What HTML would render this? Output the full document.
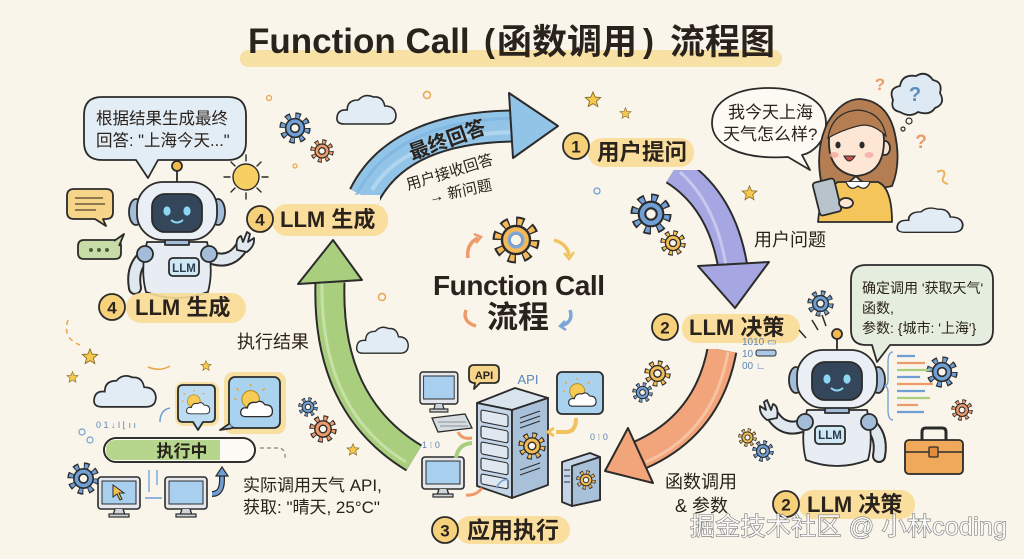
<!DOCTYPE html>
<html><head><meta charset="utf-8"><style>
html,body{margin:0;padding:0;background:#faf5ea;width:1024px;height:559px;overflow:hidden;}
svg{display:block;}
text{font-family:"Liberation Sans","Noto Sans CJK SC",sans-serif;}
.b{font-weight:700;}
.ol{stroke:#2b2b2b;stroke-width:1.8;stroke-linejoin:round;}
</style></head><body>
<svg width="1024" height="559" viewBox="0 0 1024 559" xmlns="http://www.w3.org/2000/svg">
<defs>
<symbol id="g" viewBox="-14 -14 28 28">
<circle r="10" fill="none" stroke="#2b2b2b" stroke-width="7.4" stroke-dasharray="4.1 3.75"/>
<circle r="10" fill="none" stroke="currentColor" stroke-width="5" stroke-dasharray="2.6 5.25" stroke-dashoffset="-0.75"/>
<circle r="8.2" fill="currentColor" stroke="#2b2b2b" stroke-width="1.4"/>
<circle r="3.8" fill="#faf5ea" stroke="#2b2b2b" stroke-width="1.4"/>
</symbol>
<symbol id="cl" viewBox="0 0 62 34" preserveAspectRatio="none">
<path d="M9,32 Q1,32 2,25 Q3,17 12,18 Q12,8 23,8 Q29,1 38,5 Q47,4 49,14 Q59,14 60,23 Q60,32 51,32 Z" fill="#e2ecf5" stroke="#2b2b2b" stroke-width="1.6"/>
</symbol>
<symbol id="st" viewBox="-10 -10 20 20">
<polygon points="0,-9 2.35,-3.24 8.56,-2.78 3.8,1.24 5.29,7.28 0,4 -5.29,7.28 -3.8,1.24 -8.56,-2.78 -2.35,-3.24" fill="#f5c94e" stroke="#8a6a2a" stroke-width="1"/>
</symbol>
<symbol id="sun" viewBox="0 0 40 34">
<circle cx="16" cy="14" r="8" fill="#f6cc55" stroke="#b58a2a" stroke-width="1"/>
<path d="M16,2v-2M5,6l-2,-2M27,6l2,-2M3,14h-2" stroke="#e9a93a" stroke-width="1.5"/>
<path d="M12,30 Q6,30 7,25 Q8,21 13,22 Q14,16 21,17 Q26,14 29,19 Q36,19 36,25 Q36,30 31,30Z" fill="#fff" stroke="#2b2b2b" stroke-width="1.2"/>
</symbol>
<g id="robot" stroke="#2b2b2b" stroke-width="1.8" stroke-linejoin="round">
<path d="M-30,44 Q-46,56 -42,78" fill="none" stroke-width="14" stroke-linecap="round"/>
<path d="M-30,44 Q-46,56 -42,78" fill="none" stroke="#dfe7ef" stroke-width="10" stroke-linecap="round"/>
<path d="M30,46 Q52,56 64,38" fill="none" stroke-width="14" stroke-linecap="round"/>
<path d="M30,46 Q52,56 64,38" fill="none" stroke="#dfe7ef" stroke-width="10" stroke-linecap="round"/>
<path d="M60,40 Q58,28 64,26 L66,32 L70,22 L73,24 L71,32 L77,28 Q78,36 70,42 Z" fill="#dfe7ef"/>
<path d="M-30,32 L30,32 Q37,60 31,82 Q0,94 -31,82 Q-37,60 -30,32Z" fill="#e7edf3"/>
<circle cx="-32" cy="44" r="8" fill="#a3bdd8"/>
<circle cx="32" cy="44" r="8" fill="#a3bdd8"/>
<rect x="-12" y="27" width="24" height="8" fill="#a3bdd8"/>
<rect x="-8" y="48" width="30" height="18" rx="4" fill="#cfe8f4"/>
<ellipse cx="-41" cy="2" rx="7" ry="13" fill="#a3bdd8"/>
<ellipse cx="41" cy="2" rx="7" ry="13" fill="#a3bdd8"/>
<rect x="-40" y="-28" width="80" height="58" rx="26" fill="#e9eff5"/>
<rect x="-25" y="-16" width="50" height="38" rx="13" fill="#33465a"/>
<ellipse cx="-10" cy="1" rx="3.6" ry="4.6" fill="#8fd6f4" stroke="none"/>
<ellipse cx="10" cy="1" rx="3.6" ry="4.6" fill="#8fd6f4" stroke="none"/>
<path d="M-6,10 Q0,15 6,10" fill="none" stroke="#8fd6f4" stroke-width="2"/>
<line x1="0" y1="-28" x2="0" y2="-40"/>
<circle cx="0" cy="-44" r="5" fill="#f3b94d"/>
</g>
<g id="mon">
<rect x="0" y="0" width="42" height="32" rx="3" fill="#e4e8ec" stroke="#2b2b2b" stroke-width="1.6"/>
<rect x="4" y="4" width="34" height="23" fill="#a9cfee" stroke="#2b2b2b" stroke-width="1"/>
<path d="M17,32 L15,38 L27,38 L25,32" fill="#cfd5db" stroke="#2b2b2b" stroke-width="1.3"/>
<rect x="11" y="37" width="20" height="3" fill="#cfd5db" stroke="#2b2b2b" stroke-width="1.2"/>
</g>
</defs>
<rect width="1024" height="559" fill="#faf5ea"/>
<g fill="#2a221c">

<!-- Title -->
<rect x="240" y="50" width="542" height="17" rx="8" fill="#f6dc94" opacity="0.8"/>
<text x="248" y="53" class="b" font-size="35">Function Call</text>
<text x="484" y="52" class="b" font-size="33">(</text>
<text x="497" y="54" class="b" font-size="35">函数调用</text>
<text x="643" y="52" class="b" font-size="33">)</text>
<text x="670" y="54" class="b" font-size="35">流程图</text>

<!-- decorative small circles -->
<circle cx="269" cy="98" r="2.5" fill="none" stroke="#e9a54a" stroke-width="1.3"/>
<circle cx="427" cy="95" r="3.5" fill="none" stroke="#e9a54a" stroke-width="1.5"/>
<circle cx="295" cy="166" r="2" fill="none" stroke="#e9a54a" stroke-width="1.2"/>
<circle cx="597" cy="191" r="3" fill="none" stroke="#6f9fd4" stroke-width="1.3"/>
<circle cx="382" cy="297" r="3.5" fill="none" stroke="#e9a54a" stroke-width="1.5"/>

<!-- clouds -->
<use href="#cl" x="335" y="92" width="63" height="34"/>
<use href="#cl" x="895" y="205" width="70" height="29"/>
<use href="#cl" x="355" y="324" width="55" height="31"/>
<use href="#cl" x="92" y="372" width="66" height="37"/>

<!-- gears -->
<use href="#g" x="279" y="112" width="32" height="32" color="#6f9fd4"/>
<use href="#g" x="310" y="139" width="24" height="24" color="#ee9a6b"/>
<use href="#g" x="630" y="193" width="42" height="42" color="#6f9fd4"/>
<use href="#g" x="660" y="230" width="26" height="26" color="#f1bb55"/>
<use href="#g" x="807" y="290" width="27" height="27" color="#6f9fd4"/>
<use href="#g" x="926" y="356" width="32" height="32" color="#6f9fd4"/>
<use href="#g" x="951" y="399" width="22" height="22" color="#ee9a6b"/>
<use href="#g" x="738" y="428" width="19" height="19" color="#f1bb55"/>
<use href="#g" x="752" y="440" width="22" height="22" color="#6f9fd4"/>
<use href="#g" x="644" y="360" width="27" height="27" color="#f1bb55"/>
<use href="#g" x="632" y="382" width="21" height="21" color="#6f9fd4"/>
<use href="#g" x="67" y="462" width="33" height="33" color="#6f9fd4"/>
<use href="#g" x="298" y="397" width="20" height="20" color="#6f9fd4"/>
<use href="#g" x="309" y="415" width="28" height="28" color="#ee9a6b"/>

<!-- stars -->
<use href="#st" x="584" y="91" width="18" height="18"/>
<use href="#st" x="619" y="107" width="13" height="13"/>
<use href="#st" x="741" y="185" width="17" height="17"/>
<use href="#st" x="81" y="348" width="18" height="18"/>
<use href="#st" x="66" y="371" width="13" height="13"/>
<use href="#st" x="200" y="360" width="12" height="12"/>
<use href="#st" x="346" y="443" width="14" height="14"/>

<!-- ===== Arrows ===== -->
<!-- blue -->
<path d="M364,196 Q398,128 512,126" fill="none" stroke="#2b2b2b" stroke-width="33"/>
<path d="M364,196 Q398,128 512,126" fill="none" stroke="#92c4e8" stroke-width="29"/>
<path d="M372,190 Q404,136 512,132" fill="none" stroke="#b7d9f0" stroke-width="4" opacity="0.8"/>
<path d="M356,196 Q392,122 512,118" fill="none" stroke="#7cb4df" stroke-width="3" opacity="0.7"/>
<polygon points="509,93 513,158 558,126" fill="#92c4e8" stroke="#2b2b2b" stroke-width="2" stroke-linejoin="round"/>
<rect x="340" y="195" width="40" height="8" fill="#faf5ea"/>
<text transform="translate(412,160) rotate(-20)" font-size="20" font-weight="700">最终回答</text>
<text transform="translate(408,190) rotate(-17)" font-size="15">用户接收回答</text>
<text transform="translate(430,203) rotate(-12)" font-size="15">→ 新问题</text>

<!-- purple -->
<path d="M674,170 Q722,200 733,268" fill="none" stroke="#2b2b2b" stroke-width="31"/>
<path d="M674,170 Q722,200 733,268" fill="none" stroke="#a6a7e2" stroke-width="27"/>
<path d="M680,172 Q716,204 726,266" fill="none" stroke="#c8c8ef" stroke-width="3"/>
<polygon points="698,266 769,262 735,308" fill="#a6a7e2" stroke="#2b2b2b" stroke-width="2" stroke-linejoin="round"/>
<rect x="652" y="158" width="50" height="12" fill="#faf5ea"/>
<text x="754" y="246" font-size="18">用户问题</text>

<!-- orange -->
<path d="M722,350 Q708,425 640,455" fill="none" stroke="#2b2b2b" stroke-width="31"/>
<path d="M722,350 Q708,425 640,455" fill="none" stroke="#f2a47a" stroke-width="27"/>
<path d="M728,352 Q714,432 646,462" fill="none" stroke="#f7c3a3" stroke-width="3"/>
<polygon points="628,428 653,483 605,471" fill="#f2a47a" stroke="#2b2b2b" stroke-width="2" stroke-linejoin="round"/>
<rect x="700" y="336" width="45" height="13" fill="#faf5ea"/>
<text x="665" y="488" font-size="18">函数调用</text>
<text x="675" y="512" font-size="18">&amp; 参数</text>

<!-- green -->
<path d="M414,458 Q326,405 330,282" fill="none" stroke="#2b2b2b" stroke-width="31"/>
<path d="M414,458 Q326,405 330,282" fill="none" stroke="#a9cf7e" stroke-width="27"/>
<path d="M406,462 Q320,410 322,282" fill="none" stroke="#c6e0a6" stroke-width="3"/>
<polygon points="298,284 362,280 333,240" fill="#a9cf7e" stroke="#2b2b2b" stroke-width="2" stroke-linejoin="round"/>
<text x="237" y="348" font-size="18">执行结果</text>

<!-- ===== Center ===== -->
<use href="#g" x="492" y="216" width="48" height="48" color="#f3b95a"/>
<circle cx="516" cy="240" r="7" fill="none" stroke="#7ba7d8" stroke-width="3"/>
<path d="M468,258 Q466,244 478,238" fill="none" stroke="#ef9a68" stroke-width="3.5"/>
<path d="M474,234 L481,237 L476,243" fill="none" stroke="#ef9a68" stroke-width="2.5"/>
<path d="M554,240 Q568,244 569,256" fill="none" stroke="#f0c35e" stroke-width="3.5"/>
<path d="M564,253 L569,259 L574,252" fill="none" stroke="#f0c35e" stroke-width="2.5"/>
<path d="M466,310 Q462,322 476,326" fill="none" stroke="#ef9a68" stroke-width="3.5"/>
<path d="M570,310 Q574,322 561,326" fill="none" stroke="#7ba7d8" stroke-width="3.5"/>
<path d="M565,321 L560,326 L566,330" fill="none" stroke="#7ba7d8" stroke-width="2.5"/>
<text x="433" y="295" class="b" font-size="28" textLength="172">Function Call</text>
<text x="487" y="328" class="b" font-size="31">流程</text>

<!-- ===== Left bubble and robot ===== -->
<path d="M102,97 H228 Q246,97 246,115 V142 Q246,160 228,160 H158 L148,178 L136,160 H102 Q84,160 84,142 V115 Q84,97 102,97Z" fill="#e3edf5" class="ol"/>
<text x="96" y="124" font-size="16.5">根据结果生成最终</text>
<text x="96" y="146" font-size="16.5">回答: "上海今天..."</text>

<!-- chat icons -->
<path d="M74,189 H106 Q113,189 113,196 V212 Q113,219 106,219 H103 L106,226 L95,219 H74 Q67,219 67,212 V196 Q67,189 74,189Z" fill="#f6d48a" class="ol"/>
<path d="M75,198 H103 M75,204 H105 M75,210 H96" stroke="#6b5a3a" stroke-width="1.6"/>
<path d="M84,240 H115 Q121,240 121,246 V253 Q121,259 115,259 H84 Q78,259 78,253 V246 Q78,240 84,240Z" fill="#c8dca8" class="ol"/>
<path d="M114,241 L124,234 L119,246" fill="#c8dca8" class="ol"/>
<circle cx="91" cy="250" r="2" fill="#4d5d3a"/><circle cx="99" cy="250" r="2" fill="#4d5d3a"/><circle cx="107" cy="250" r="2" fill="#4d5d3a"/>

<!-- sun -->
<g stroke="#2b2b2b" stroke-width="1.4">
<circle cx="246" cy="177" r="13" fill="#f7d064"/>
<path d="M246,155v6M246,193v6M224,177h6M262,177h6M231,162l4,4M257,188l4,4M261,162l-4,4M231,192l4,-4" stroke-linecap="round"/>
</g>

<use href="#robot" transform="translate(177,210)"/>
<text x="184" y="272" text-anchor="middle" font-size="11.5" font-weight="700" style="fill:#2b3b4b">LLM</text>

<!-- label ④ top -->
<rect x="272" y="204" width="116" height="32" rx="15" fill="#f8dc95" opacity="0.9"/>
<circle cx="260" cy="219" r="13" fill="#f7d07a" class="ol"/>
<text x="260" y="225.5" text-anchor="middle" class="b" font-size="17">4</text>
<text x="280" y="227" class="b" font-size="22">LLM 生成</text>

<!-- label ④ bottom -->
<rect x="126" y="293" width="120" height="30" rx="15" fill="#f8dc95" opacity="0.9"/>
<circle cx="112" cy="307" r="13" fill="#f7d07a" class="ol"/>
<text x="112" y="313.5" text-anchor="middle" class="b" font-size="17">4</text>
<text x="135" y="315" class="b" font-size="22">LLM 生成</text>

<!-- dashed arc decorations -->
<path d="M68,320 Q62,338 80,345" fill="none" stroke="#e9a54a" stroke-width="1.5" stroke-dasharray="5 4"/>
<path d="M148,367 Q160,372 170,366" fill="none" stroke="#e9a54a" stroke-width="1.5"/>

<!-- bottom-left execution -->
<text x="96" y="428" font-size="9" style="fill:#5b85b8">0 1 ↓ l ⌊ ı ı</text>
<path d="M160,422 Q160,410 170,408" fill="none" stroke="#6f9fd4" stroke-width="1.5"/>
<g>
<rect x="175" y="382" width="44" height="44" rx="8" fill="#f6dc94" opacity="0.8"/>
<path d="M183,385 H210 Q215,385 215,390 V417 Q215,422 210,422 H203 L198,430 L193,422 H183 Q178,422 178,417 V390 Q178,385 183,385Z" fill="#bedcf1" class="ol"/>
<use href="#sun" x="181" y="390" width="32" height="27"/>
<rect x="224" y="372" width="62" height="62" rx="9" fill="#f6dc94" opacity="0.85"/>
<rect x="229" y="377" width="51" height="51" rx="6" fill="#a9d2ef" class="ol"/>
<path d="M229,424 L220,430 L233,428" fill="#a9d2ef" class="ol"/>
<use href="#sun" x="233" y="384" width="44" height="37"/>
</g>
<rect x="104" y="438" width="151" height="24" rx="12" fill="#fdfbf5" class="ol"/>
<path d="M116,440 H220 V460 H116 Q106,460 106,450 Q106,440 116,440Z" fill="#b5d68c"/>
<rect x="104" y="438" width="151" height="24" rx="12" fill="none" class="ol"/>
<text x="182" y="457" text-anchor="middle" font-size="17" font-weight="700">执行中</text>
<path d="M260,448 H280 Q286,450 285,460" fill="none" stroke="#888" stroke-width="1.3" stroke-dasharray="4 3"/>
<circle cx="82" cy="432" r="3" fill="none" stroke="#6f9fd4" stroke-width="1.2"/>
<circle cx="90" cy="440" r="3" fill="none" stroke="#6f9fd4" stroke-width="1.2"/>
<use href="#mon" x="98" y="477"/>
<path d="M113,485 L113,497 L117,494 L120,500 L122,499 L119,493 L124,493Z" fill="#f3c24e" stroke="#2b2b2b" stroke-width="1"/>
<use href="#mon" x="165" y="477"/>
<path d="M145,498 H162" stroke="#6f9fd4" stroke-width="1.5"/>
<path d="M149,470 V492 M157,470 V485" stroke="#6f9fd4" stroke-width="1.3"/>
<path d="M212,494 Q222,494 222,480 L222,474" fill="none" stroke="#2b2b2b" stroke-width="6"/>
<path d="M212,494 Q222,494 222,480 L222,474" fill="none" stroke="#6f9fd4" stroke-width="3.5"/>
<polygon points="216,476 228,476 222,467" fill="#6f9fd4" stroke="#2b2b2b" stroke-width="1.2"/>
<text x="243" y="491" font-size="17">实际调用天气 API,</text>
<text x="243" y="513" font-size="17">获取: "晴天, 25°C"</text>

<!-- ===== Server cluster ===== -->
<use href="#mon" transform="translate(420,372) scale(0.9,1)"/>
<polygon points="432,418 465,414 472,428 438,432" fill="#d7dce1" stroke="#2b2b2b" stroke-width="1.3"/>
<path d="M438,422 H466 M440,426 H468" stroke="#8a9199" stroke-width="1"/>
<path d="M474,365 H494 Q499,365 499,370 V378 Q499,383 494,383 H480 L474,389 L475,383 Q469,383 469,378 V370 Q469,365 474,365Z" fill="#f6d48a" class="ol"/>
<text x="484" y="379" text-anchor="middle" font-size="11" font-weight="700">API</text>
<text x="528" y="384" text-anchor="middle" font-size="13" style="fill:#5b85b8">API</text>
<polygon points="477,403 515,388 548,398 512,410" fill="#d9e4ef" class="ol"/>
<polygon points="477,403 512,410 512,498 477,486" fill="#c4d5e7" class="ol"/>
<polygon points="512,410 548,398 548,485 512,498" fill="#a9c0d9" class="ol"/>
<g transform="translate(477,403) skewY(11)" stroke="#2b2b2b" stroke-width="1.1">
<rect x="4" y="6" width="27" height="12" rx="2" fill="#dfe8f1"/>
<rect x="4" y="22" width="27" height="12" rx="2" fill="#dfe8f1"/>
<rect x="4" y="38" width="27" height="12" rx="2" fill="#dfe8f1"/>
<rect x="4" y="54" width="27" height="12" rx="2" fill="#dfe8f1"/>
<rect x="4" y="70" width="27" height="10" rx="2" fill="#dfe8f1"/>
</g>
<path d="M520,418 L540,411 M520,423 L540,416 M520,428 L540,421 M520,470 L540,463 M520,475 L540,468" stroke="#2b2b2b" stroke-width="1"/>
<use href="#g" x="518" y="432" width="28" height="28" color="#f1bb55"/>
<rect x="557" y="372" width="46" height="42" rx="5" fill="#a9d2ef" class="ol"/>
<use href="#sun" x="561" y="378" width="40" height="32"/>
<use href="#mon" x="422" y="457"/>
<polygon points="562,462 590,453 600,457 600,500 572,506 562,502" fill="#c4d5e7" class="ol"/>
<polygon points="572,466 600,457 600,500 572,506" fill="#a9c0d9" class="ol"/>
<use href="#g" x="576" y="470" width="20" height="20" color="#f1bb55"/>
<path d="M564,470 H570 M564,476 H570 M564,482 H570" stroke="#2b2b2b" stroke-width="1"/>
<path d="M458,432 Q462,440 472,438" fill="none" stroke="#ef9a68" stroke-width="3"/>
<path d="M456,458 Q458,444 472,443" fill="none" stroke="#a9cf7e" stroke-width="4"/>
<path d="M466,495 Q476,496 482,488" fill="none" stroke="#ef9a68" stroke-width="3"/>
<path d="M556,432 H566 Q576,432 576,418" fill="none" stroke="#f0c35e" stroke-width="4"/>
<path d="M554,428 L548,432 L554,436" fill="none" stroke="#f0c35e" stroke-width="3"/>
<path d="M496,488 Q502,478 508,480" fill="none" stroke="#6f9fd4" stroke-width="1.5"/>
<text x="422" y="448" font-size="9" style="fill:#5b85b8">1 ⁝ 0</text>
<text x="590" y="440" font-size="9" style="fill:#5b85b8">0 ⁝ 0</text>

<!-- label ③ -->
<rect x="456" y="516" width="114" height="28" rx="14" fill="#f8dc95" opacity="0.9"/>
<circle cx="445" cy="530" r="13" fill="#f7d07a" class="ol"/>
<text x="445" y="536.5" text-anchor="middle" class="b" font-size="17">3</text>
<text x="467" y="538" class="b" font-size="23">应用执行</text>

<!-- label ① -->
<rect x="588" y="138" width="106" height="29" rx="14" fill="#f8dc95" opacity="0.9"/>
<circle cx="576" cy="146" r="13" fill="#f7d07a" class="ol"/>
<text x="576" y="152.5" text-anchor="middle" class="b" font-size="17">1</text>
<text x="597" y="160" class="b" font-size="22.5">用户提问</text>

<!-- girl bubble -->
<path d="M768,88 C800,88 826,100 826,123 C826,142 812,153 802,155 L810,170 L788,157 C740,160 712,145 712,123 C712,100 738,88 768,88Z" fill="#fdfaf3" class="ol"/>
<text x="728" y="118" font-size="17">我今天上海</text>
<text x="723" y="140" font-size="17">天气怎么样?</text>

<!-- thought cloud & question marks -->
<path d="M900,112 Q890,110 893,100 Q888,88 900,86 Q902,74 916,76 Q926,70 933,80 Q943,82 940,93 Q946,104 935,108 Q930,116 918,112 Q910,118 900,112Z" fill="#dde9f3" class="ol"/>
<text x="915" y="101" text-anchor="middle" class="b" font-size="20" style="fill:#5b8db8">?</text>
<circle cx="909" cy="121" r="3" fill="none" stroke="#2b2b2b" stroke-width="1.2"/>
<circle cx="903" cy="129" r="2" fill="none" stroke="#2b2b2b" stroke-width="1.2"/>
<text x="880" y="90" text-anchor="middle" class="b" font-size="17" style="fill:#ec9a6a">?</text>
<text x="921" y="148" text-anchor="middle" class="b" font-size="19" style="fill:#ec9a6a">?</text>
<path d="M937,172 Q946,168 944,176 Q940,182 948,184" fill="none" stroke="#efb35a" stroke-width="2"/>

<!-- girl -->
<path d="M822,186 Q814,150 828,122 Q842,99 860,99 Q886,101 894,130 Q902,162 892,186 Q870,192 856,176 Q840,192 822,186Z" fill="#b47d52" class="ol"/>
<path d="M818,222 Q820,192 838,182 H878 Q892,188 892,222 Z" fill="#f4c55a" class="ol"/>
<path d="M846,182 Q850,192 858,186 Q866,192 870,182" fill="#fff" stroke="#2b2b2b" stroke-width="1.3"/>
<ellipse cx="885" cy="148" rx="5" ry="7" fill="#fbe2cf" class="ol"/>
<path d="M829,140 Q828,172 856,176 Q884,174 884,140 Q884,125 870,120 Q850,128 835,122 Q829,128 829,140Z" fill="#fde6d3" class="ol"/>
<path d="M828,138 Q832,112 858,110 Q882,112 886,136 Q872,122 858,126 Q842,130 828,138Z" fill="#b47d52" stroke="#2b2b2b" stroke-width="1.2"/>
<ellipse cx="838" cy="145" rx="2.6" ry="3.4" fill="#2b2b2b"/>
<ellipse cx="862" cy="145" rx="2.6" ry="3.4" fill="#2b2b2b"/>
<ellipse cx="834" cy="155" rx="4.5" ry="3" fill="#f5a8a0" opacity="0.8"/>
<ellipse cx="869" cy="155" rx="4.5" ry="3" fill="#f5a8a0" opacity="0.8"/>
<path d="M844,156 Q849,166 855,156 Z" fill="#c4524e" stroke="#2b2b2b" stroke-width="1.1"/>
<rect x="816" y="180" width="22" height="34" rx="3" fill="#b9c3cc" class="ol" transform="rotate(-14 827 197)"/>
<ellipse cx="846" cy="203" rx="7" ry="5" fill="#fde6d3" class="ol"/>

<!-- right bubble -->
<path d="M866,265 H978 Q993,265 993,280 V330 Q993,345 978,345 H890 L877,362 L872,345 H866 Q851,345 851,330 V280 Q851,265 866,265Z" fill="#e5eede" class="ol"/>
<text x="862" y="293" font-size="14">确定调用 '获取天气'</text>
<text x="862" y="313" font-size="14">函数,</text>
<text x="862" y="333" font-size="14">参数: {城市: '上海'}</text>

<!-- label ② mid -->
<rect x="682" y="314" width="118" height="29" rx="14" fill="#f8dc95" opacity="0.9"/>
<circle cx="665" cy="327" r="13" fill="#f7d07a" class="ol"/>
<text x="665" y="333.5" text-anchor="middle" class="b" font-size="17">2</text>
<text x="689" y="335" class="b" font-size="22">LLM 决策</text>

<!-- right robot -->
<path d="M818,330 L812,320 M826,326 L822,315 M806,338 L799,330" stroke="#2b2b2b" stroke-width="1.5"/>
<use href="#robot" transform="translate(837,378) scale(-1,1)"/>
<text x="830" y="439" text-anchor="middle" font-size="11.5" font-weight="700" style="fill:#2b3b4b">LLM</text>
<text x="742" y="345" font-size="10" style="fill:#5b85b8">1010 ▭</text>
<rect x="756" y="350" width="20" height="6" rx="2" fill="#a9c8e6" stroke="#2b2b2b" stroke-width="1"/>
<text x="742" y="357" font-size="10" style="fill:#5b85b8">10</text>
<text x="742" y="369" font-size="10" style="fill:#5b85b8">00 ∟</text>
<path d="M893,352 Q888,352 888,362 V380 Q888,386 884,386 Q888,386 888,392 V410 Q888,420 893,420" fill="none" stroke="#6f9fd4" stroke-width="1.3"/>
<g stroke-width="2.2">
<path d="M897,356 H915" stroke="#6f9fd4"/><path d="M897,363 H925" stroke="#ef9a68"/>
<path d="M897,370 H930" stroke="#a9cf7e"/><path d="M897,377 H920" stroke="#6f9fd4"/>
<path d="M897,384 H933" stroke="#ef9a68"/><path d="M897,391 H925" stroke="#6f9fd4"/>
<path d="M897,398 H930" stroke="#a9cf7e"/><path d="M897,405 H918" stroke="#ef9a68"/>
<path d="M897,412 H924" stroke="#6f9fd4"/>
</g>

<!-- toolbox -->
<path d="M922,440 V432 Q922,428 926,428 H942 Q946,428 946,432 V440" fill="none" stroke="#2b2b2b" stroke-width="3"/>
<rect x="905" y="440" width="58" height="34" rx="4" fill="#f0a85a" class="ol"/>
<path d="M905,452 H963" stroke="#2b2b2b" stroke-width="1.5"/>
<rect x="929" y="447" width="9" height="10" rx="1" fill="#e48c3e" stroke="#2b2b2b" stroke-width="1.3"/>

<!-- label ② bottom -->
<rect x="799" y="490" width="116" height="29" rx="14" fill="#f8dc95" opacity="0.9"/>
<circle cx="786" cy="504" r="13" fill="#f7d07a" class="ol"/>
<text x="786" y="510.5" text-anchor="middle" class="b" font-size="17">2</text>
<text x="807" y="512" class="b" font-size="22">LLM 决策</text>

<!-- watermark -->
<text x="690" y="535" font-size="25" style="fill:#ffffff;fill-opacity:0.9;stroke:#6e6e6e;stroke-width:1.1;paint-order:stroke" textLength="317">掘金技术社区 @ 小林coding</text>
</g>
</svg>
</body></html>
